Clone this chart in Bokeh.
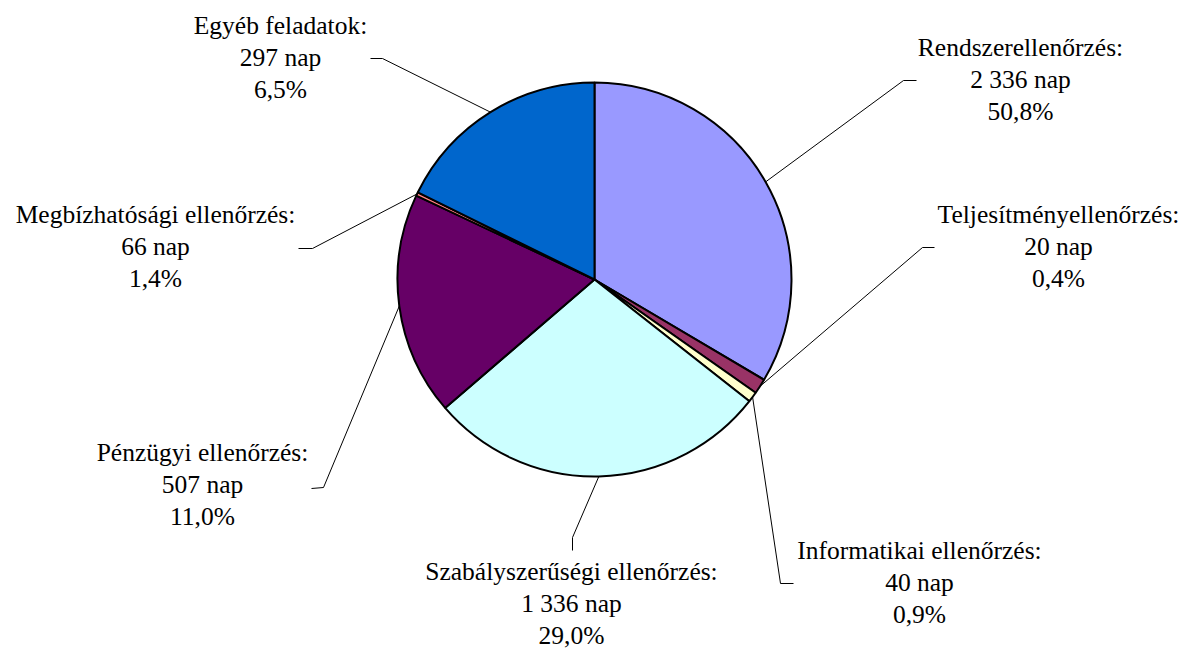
import math
from bokeh.plotting import figure
from bokeh.models import Range1d, ColumnDataSource
from bokeh.core.properties import value
from bokeh.embed import file_html
from bokeh.resources import INLINE

# ---- data ----
categories = ["Rendszerellenőrzés", "Teljesítményellenőrzés", "Informatikai ellenőrzés",
              "Szabályszerűségi ellenőrzés", "Pénzügyi ellenőrzés",
              "Megbízhatósági ellenőrzés", "Egyéb feladatok"]
days = ["2 336", "20", "40", "1 336", "507", "66", "297"]
percents = ["50,8%", "0,4%", "0,9%", "29,0%", "11,0%", "1,4%", "6,5%"]
# slice sizes as drawn in the picture (share of the full circle, %)
slice_share = [33.5, 1.25, 0.85, 28.1, 18.3, 0.3, 17.7]
colors = ["#9999FF", "#993366", "#FFFFCC", "#CCFFFF", "#660066", "#FF8080", "#0066CC"]

# ---- layout (page pixel coordinates) ----
W, H = 1184, 652
CX, CY, R = 594, 279, 197
label_pos = [(1020, 47), (1058, 214), (919, 550), (571, 571), (202, 452), (155, 214), (280, 25)]
elbows = [(903, 80, 916, 80), (922, 247, 934, 247), (780, 583, 793, 583),
          (572, 537, 572, 550), (323, 487, 311, 488), (312, 248, 298, 248), (382, 58, 370, 58)]
LINE_STEP = 32
FONT = value("Liberation Serif, serif")


def fy(y):
    return H - y


p = figure(width=W, height=H, x_range=Range1d(0, W), y_range=Range1d(0, H),
           output_backend="svg", toolbar_location=None, min_border=0,
           x_axis_location=None, y_axis_location=None)
p.grid.visible = False
p.outline_line_color = None

total = sum(slice_share)
starts, ends, mids = [], [], []
cum = 0.0
for s in slice_share:
    a0 = 90 - 360 * (cum + s) / total
    a1 = 90 - 360 * cum / total
    starts.append(math.radians(a0))
    ends.append(math.radians(a1))
    mids.append(math.radians((a0 + a1) / 2))
    cum += s

src = ColumnDataSource(dict(start=starts, end=ends, color=colors, name=categories))
p.wedge(x=CX, y=fy(CY), radius=R, start_angle="start", end_angle="end",
        fill_color="color", line_color="black", line_width=2, source=src)

xs, ys = [], []
for m, (ex, ey, tx, ty) in zip(mids, elbows):
    sx = CX + R * math.cos(m)
    sy = fy(CY) + R * math.sin(m)
    xs.append([sx, ex, tx])
    ys.append([sy, fy(ey), fy(ty)])
p.multi_line(xs, ys, line_color="black", line_width=1)

tx, ty, tt = [], [], []
for cat, d, pc, (lx, ly) in zip(categories, days, percents, label_pos):
    for i, t in enumerate([cat + ":", d + " nap", pc]):
        tx.append(lx)
        ty.append(fy(ly + i * LINE_STEP))
        tt.append(t)
p.text(x=tx, y=ty, text=tt, text_font=FONT, text_font_size="25.5px",
       text_align="center", text_baseline="middle", text_color="black")

open("out.html", "w").write(file_html(p, INLINE))
